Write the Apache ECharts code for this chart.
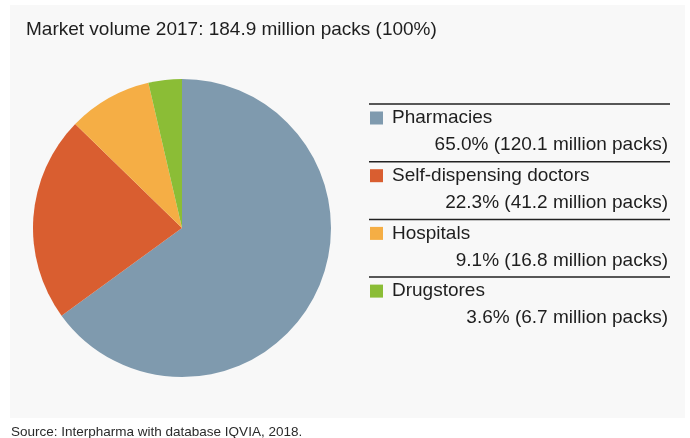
<!DOCTYPE html>
<html>
<head>
<meta charset="utf-8">
<script src="https://cdn.jsdelivr.net/npm/echarts@6/dist/echarts.min.js"></script>
<style>html,body{margin:0;padding:0;background:#fff}#c{width:690px;height:438px}</style>
</head>
<body>
<div id="c"></div>
<script>
const titleText = 'Market volume 2017: 184.9 million packs (100%)';
const sourceText = 'Source: Interpharma with database IQVIA, 2018.';
const categories = ['Pharmacies', 'Self-dispensing doctors', 'Hospitals', 'Drugstores'];
const percents = ['65.0', '22.3', '9.1', '3.6'];
const volumes = [120.1, 41.2, 16.8, 6.7];
const colors = ['#7f9aae', '#d95e30', '#f5ae45', '#8bbd36'];

const FONT = '"Liberation Sans", Arial, Helvetica, sans-serif';
const chart = echarts.init(document.getElementById('c'));

const valueLabel = {};
categories.forEach((c, i) => {
  valueLabel[c] = percents[i] + '% (' + volumes[i].toFixed(1) + ' million packs)';
});

// legend separator lines
const lineTop = 104, lineStep = 57.7;
const sepLines = categories.map((c, i) => ({
  type: 'line',
  shape: { x1: 369, y1: lineTop + i * lineStep, x2: 670, y2: lineTop + i * lineStep },
  style: { stroke: '#222', lineWidth: 1.5 },
  z: 10
}));

chart.setOption({
  backgroundColor: '#ffffff',
  animation: false,
  color: colors,
  graphic: [
    { type: 'rect', shape: { x: 10, y: 5, width: 675, height: 413 }, style: { fill: '#f8f8f8' }, z: -10, silent: true }
  ].concat(sepLines),
  title: [
    { text: titleText, left: 26, top: 20, padding: 0,
      textStyle: { fontFamily: FONT, fontSize: 19, fontWeight: 'normal', color: '#1e1e1e' } },
    { text: sourceText, left: 11, top: 425, padding: 0,
      textStyle: { fontFamily: FONT, fontSize: 13.5, fontWeight: 'normal', color: '#2a2a2a' } }
  ],
  legend: [
    {
      orient: 'vertical', left: 370, top: 108, padding: 0,
      itemWidth: 13, itemHeight: 13, itemGap: 37.7,
      icon: 'rect', selectedMode: false,
      data: categories,
      textStyle: { fontFamily: FONT, fontSize: 19, color: '#1e1e1e', lineHeight: 20, padding: [0, 0, 0, 4] }
    },
    {
      orient: 'vertical', right: 17, top: 135, padding: 0, align: 'right',
      itemWidth: 0, itemHeight: 20, itemGap: 37.7,
      icon: 'rect', selectedMode: false,
      itemStyle: { opacity: 0 },
      data: categories,
      formatter: (name) => valueLabel[name],
      textStyle: { fontFamily: FONT, fontSize: 19, color: '#1e1e1e', lineHeight: 20 }
    }
  ],
  series: [{
    type: 'pie',
    center: [182, 228],
    radius: 149,
    startAngle: 90,
    clockwise: true,
    label: { show: false },
    labelLine: { show: false },
    emphasis: { scale: false },
    itemStyle: { borderWidth: 0 },
    data: categories.map((c, i) => ({ name: c, value: volumes[i] }))
  }]
});
</script>
</body>
</html>
